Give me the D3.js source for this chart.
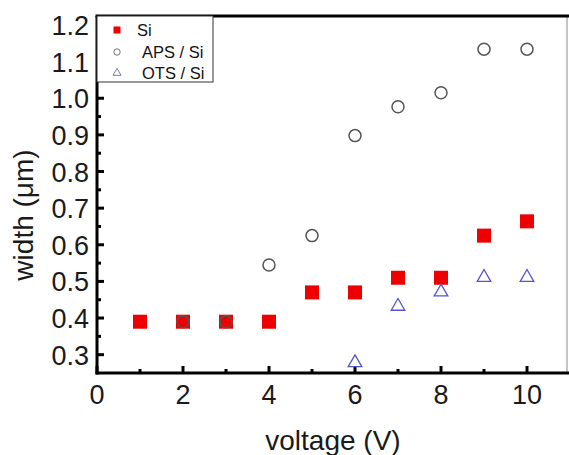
<!DOCTYPE html>
<html><head><meta charset="utf-8">
<script src="https://cdn.jsdelivr.net/npm/d3@7"></script>
<style>body{margin:0;background:#fff}svg{display:block;font-family:Arial,"Liberation Sans",sans-serif}</style>
</head><body>
<script>
const voltage = [1,2,3,4,5,6,7,8,9,10];
const siWidth = [0.39,0.39,0.39,0.39,0.47,0.47,0.51,0.51,0.625,0.664];
const apsVoltage = [2,3,4,5,6,7,8,9,10];
const apsWidth = [0.39,0.39,0.545,0.625,0.898,0.977,1.015,1.134,1.134];
const otsVoltage = [6,7,8,9,10];
const otsWidth = [0.278,0.432,0.471,0.511,0.511];
const xTicks = [0,2,4,6,8,10];
const yTicks = [0.3,0.4,0.5,0.6,0.7,0.8,0.9,1.0,1.1,1.2];
const legendLabels = ["Si","APS / Si","OTS / Si"];

const W=569,H=455;
const svg=d3.select("body").append("svg").attr("width",W).attr("height",H);
const L=97,R=567,T=16,B=373;
const x=d3.scaleLinear().domain([0,10.93]).range([L,R]);
const y=d3.scaleLinear().domain([0.25,1.2245]).range([B,T]);

// frame
svg.append("line").attr("x1",R).attr("x2",R).attr("y1",T).attr("y2",B).attr("stroke","#888").attr("stroke-width",1);

// ticks
const xMinor=d3.range(1,11,2);
const yMinor=d3.range(0.35,1.2,0.1);
const g=svg.append("g");
g.selectAll(".xm").data(xMinor).join("line").attr("x1",d=>x(d)).attr("x2",d=>x(d)).attr("y1",B).attr("y2",B-4).attr("stroke","#000").attr("stroke-width",3);
g.selectAll(".xM").data(xTicks).join("line").attr("x1",d=>x(d)).attr("x2",d=>x(d)).attr("y1",B).attr("y2",B-7).attr("stroke","#000").attr("stroke-width",3);
g.selectAll(".ym").data(yMinor).join("line").attr("x1",L).attr("x2",L+4).attr("y1",d=>y(d)).attr("y2",d=>y(d)).attr("stroke","#000").attr("stroke-width",3);
g.selectAll(".yM").data(yTicks).join("line").attr("x1",L).attr("x2",L+7).attr("y1",d=>y(d)).attr("y2",d=>y(d)).attr("stroke","#000").attr("stroke-width",3);

// axes lines
svg.append("line").attr("x1",L).attr("x2",L).attr("y1",T).attr("y2",B+1.5).attr("stroke","#000").attr("stroke-width",3);
svg.append("line").attr("x1",L-1.5).attr("x2",W).attr("y1",B).attr("y2",B).attr("stroke","#000").attr("stroke-width",3);
svg.append("line").attr("x1",L-1.5).attr("x2",W).attr("y1",T).attr("y2",T).attr("stroke","#000").attr("stroke-width",3);

// tick labels
svg.selectAll(".xl").data(xTicks).join("text").attr("x",d=>x(d)).attr("y",B+31).attr("text-anchor","middle").attr("font-size",27).attr("fill","#1a1a1a").text(d=>d);
svg.selectAll(".yl").data(yTicks).join("text").attr("x",L-8).attr("y",d=>y(d)+10).attr("text-anchor","end").attr("font-size",27).attr("fill","#1a1a1a").text(d=>d.toFixed(1));

// axis titles
svg.append("text").attr("x",333).attr("y",450).attr("text-anchor","middle").attr("font-size",28).attr("fill","#1a1a1a").text("voltage (V)");
svg.append("text").attr("transform",`translate(33,215) rotate(-90)`).attr("text-anchor","middle").attr("font-size",28).attr("fill","#1a1a1a").text("width (\u03bcm)");

// data
const sq=14;
svg.selectAll(".si").data(voltage.map((v,i)=>[v,siWidth[i]])).join("rect")
 .attr("x",d=>x(d[0])-sq/2).attr("y",d=>y(d[1])-sq/2).attr("width",sq).attr("height",sq).attr("fill","#ee0000");
svg.selectAll(".aps").data(apsVoltage.map((v,i)=>[v,apsWidth[i]])).join("circle")
 .attr("cx",d=>x(d[0])).attr("cy",d=>y(d[1])).attr("r",6).attr("fill","none").attr("stroke","#555").attr("stroke-width",1.5);
const tri=d3.symbol().type(d3.symbolTriangle).size(80);
svg.selectAll(".ots").data(otsVoltage.map((v,i)=>[v,otsWidth[i]])).join("path")
 .attr("d",tri).attr("transform",d=>`translate(${x(d[0])},${y(d[1])})`).attr("fill","none").attr("stroke","#5555cc").attr("stroke-width",1.3);

// legend
const lg=svg.append("g");
lg.append("rect").attr("x",L).attr("y",T).attr("width",116).attr("height",66).attr("fill","#fff").attr("stroke","#333").attr("stroke-width",1);
const ly=[30,52,73];
lg.append("rect").attr("x",117-3.5).attr("y",ly[0]-3.5).attr("width",7).attr("height",7).attr("fill","#ee0000");
lg.append("circle").attr("cx",117).attr("cy",ly[1]).attr("r",3.2).attr("fill","none").attr("stroke","#777").attr("stroke-width",1);
lg.append("path").attr("d",d3.symbol().type(d3.symbolTriangle).size(28)).attr("transform",`translate(117,${ly[2]})`).attr("fill","none").attr("stroke","#7777cc").attr("stroke-width",1);
lg.selectAll(".lt").data(legendLabels).join("text").attr("x",(d,i)=>i==0?137:142).attr("y",(d,i)=>ly[i]+6).attr("font-size",16.5).attr("fill","#111").text(d=>d);
</script>
</body></html>
